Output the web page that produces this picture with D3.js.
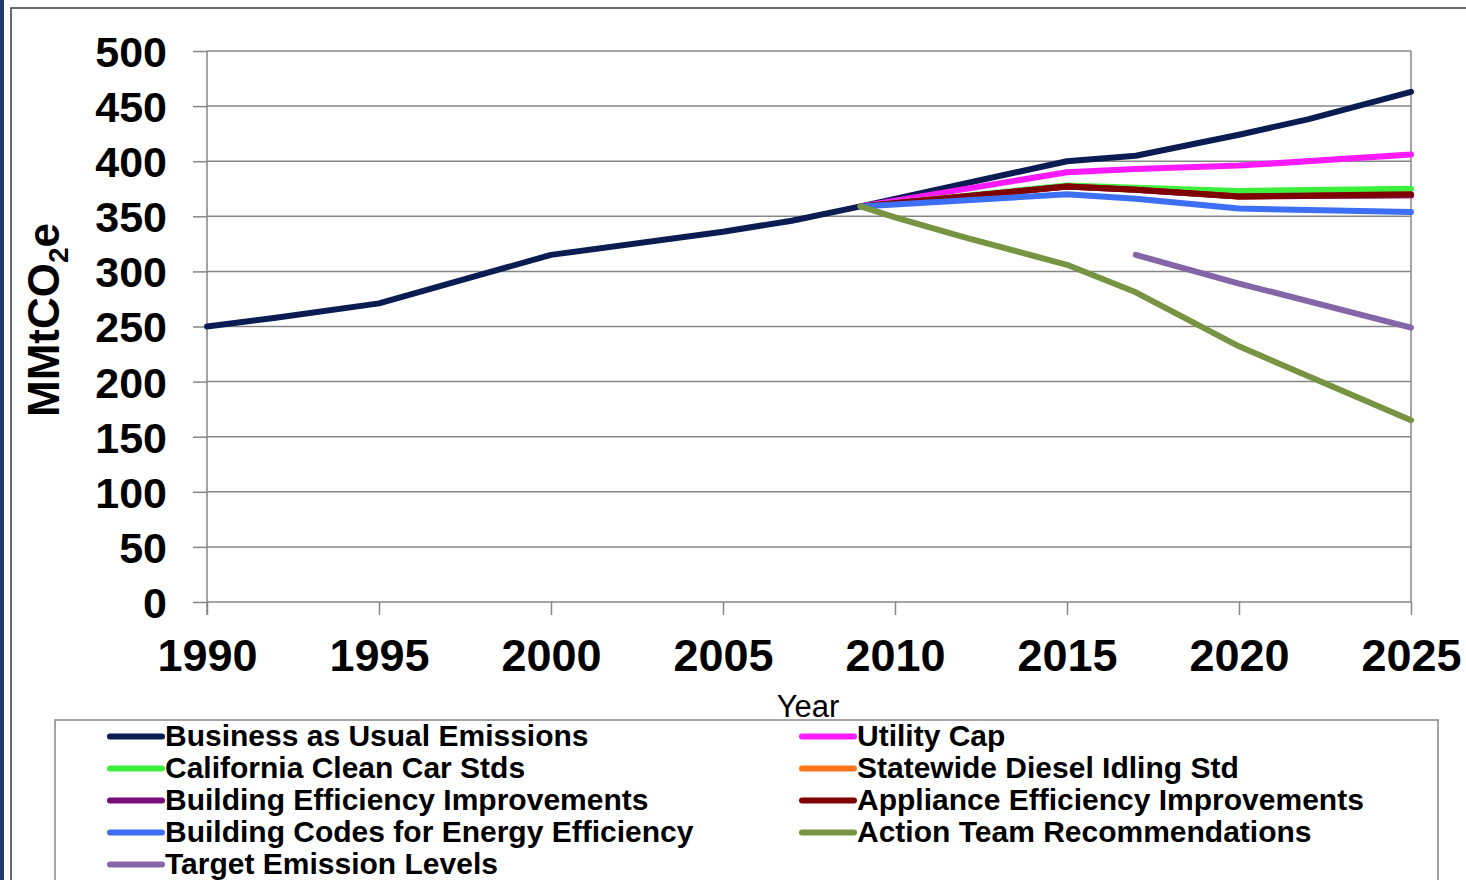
<!DOCTYPE html>
<html>
<head>
<meta charset="utf-8">
<script src="https://cdn.jsdelivr.net/npm/d3@7"></script>
<style>
  html, body { margin: 0; padding: 0; background: #fff; }
  svg { display: block; font-family: "Liberation Sans", Arial, sans-serif; }
</style>
</head>
<body>
<div id="chart"></div>
<script>
// Data (year, MMtCO2e)
const businessAsUsual = [[1990, 250], [1992, 258], [1995, 271], [2000, 315], [2005, 336], [2007, 346], [2009, 359], [2015, 400], [2017, 405], [2020, 424], [2022, 438], [2025, 463]];
const utilityCap = [[2009, 359], [2015, 390], [2017, 393], [2020, 396], [2025, 406]];
const cleanCarStds = [[2009, 359], [2015, 378], [2017, 376], [2020, 373], [2025, 375]];
const dieselIdlingStd = [[2009, 359], [2015, 377], [2017, 374], [2020, 368], [2025, 369]];
const buildingEfficiency = [[2009, 359], [2015, 377], [2017, 374], [2020, 368], [2025, 369]];
const applianceEfficiency = [[2009, 359], [2015, 377], [2017, 374], [2020, 368], [2025, 370]];
const buildingCodes = [[2009, 359], [2015, 370], [2017, 366], [2020, 357], [2025, 354]];
const actionTeam = [[2009, 359], [2010, 349], [2012, 331], [2015, 306], [2017, 281], [2020, 232], [2025, 165]];
const targetLevels = [[2017, 315], [2020, 289], [2025, 249]];

const seriesNames = [
  "Business as Usual Emissions", "Utility Cap", "California Clean Car Stds",
  "Statewide Diesel Idling Std", "Building Efficiency Improvements",
  "Appliance Efficiency Improvements", "Building Codes for Energy Efficiency",
  "Action Team Recommendations", "Target Emission Levels"
];
const seriesValues = [businessAsUsual, utilityCap, cleanCarStds, dieselIdlingStd,
  buildingEfficiency, applianceEfficiency, buildingCodes, actionTeam, targetLevels];
const seriesColors = ["#0b1c52", "#ff1aff", "#3cf03c", "#ff7519", "#7a0e7a",
  "#7f0000", "#3d6ff5", "#779442", "#8466a8"];

const xTicks = [1990, 1995, 2000, 2005, 2010, 2015, 2020, 2025];
const yTicks = [0, 50, 100, 150, 200, 250, 300, 350, 400, 450, 500];

const WIDTH = 1466, HEIGHT = 880;
const PLOT = { left: 207, right: 1411, top: 51, bottom: 602 };
const GRID = "#868686";

const svg = d3.select("#chart").append("svg")
  .attr("width", WIDTH).attr("height", HEIGHT);

// page frame
svg.append("rect").attr("x", 0).attr("y", 0).attr("width", 4).attr("height", HEIGHT).attr("fill", "#1f3a66");
svg.append("path").attr("d", `M11,${HEIGHT} V8 H${WIDTH}`).attr("fill", "none").attr("stroke", "#3a3a3a").attr("stroke-width", 1.5);

const x = d3.scaleLinear().domain([1990, 2025]).range([PLOT.left, PLOT.right]);
const y = d3.scaleLinear().domain([0, 500]).range([PLOT.bottom, PLOT.top]);

// horizontal gridlines
svg.append("g").selectAll("line").data(yTicks).join("line")
  .attr("x1", PLOT.left).attr("x2", PLOT.right)
  .attr("y1", d => y(d)).attr("y2", d => y(d))
  .attr("stroke", GRID).attr("stroke-width", 1.5);

// right border
svg.append("line").attr("x1", PLOT.right).attr("x2", PLOT.right)
  .attr("y1", PLOT.top).attr("y2", PLOT.bottom)
  .attr("stroke", GRID).attr("stroke-width", 1.5);

// y axis
const yAxis = svg.append("g").attr("transform", `translate(${PLOT.left},0)`)
  .call(d3.axisLeft(y).tickValues(yTicks).tickSize(14).tickPadding(26).tickFormat(d3.format("d")));
yAxis.select(".domain").remove();
yAxis.selectAll(".tick line").attr("stroke", GRID).attr("stroke-width", 1.5);
yAxis.selectAll("text").attr("font-size", 43).attr("font-weight", "bold").attr("fill", "#000")
  .attr("font-family", "Liberation Sans, Arial, sans-serif").attr("dy", "0.36em");
svg.append("line").attr("x1", PLOT.left).attr("x2", PLOT.left)
  .attr("y1", PLOT.top).attr("y2", PLOT.bottom + 13)
  .attr("stroke", GRID).attr("stroke-width", 1.5);

// x axis
const xAxis = svg.append("g").attr("transform", `translate(0,${PLOT.bottom})`)
  .call(d3.axisBottom(x).tickValues(xTicks).tickSize(13).tickFormat(d3.format("d")));
xAxis.select(".domain").remove();
xAxis.selectAll(".tick line").attr("stroke", GRID).attr("stroke-width", 1.5);
xAxis.selectAll("text").attr("font-size", 45).attr("font-weight", "bold").attr("fill", "#000")
  .attr("font-family", "Liberation Sans, Arial, sans-serif").attr("y", 69).attr("dy", null);

// axis titles
svg.append("text").attr("x", 808).attr("y", 717).attr("text-anchor", "middle")
  .attr("font-size", 31).attr("fill", "#000").text("Year");

const yTitle = svg.append("text")
  .attr("transform", "translate(59,320) rotate(-90)")
  .attr("text-anchor", "middle").attr("font-size", 44).attr("font-weight", "bold").attr("fill", "#000");
yTitle.append("tspan").text("MMtCO");
yTitle.append("tspan").attr("font-size", 28).attr("dy", 9).text("2");
yTitle.append("tspan").attr("dy", -9).text("e");

// series lines
const line = d3.line().x(d => x(d[0])).y(d => y(d[1]));
svg.append("g").selectAll("path").data(seriesValues).join("path")
  .attr("d", line)
  .attr("fill", "none")
  .attr("stroke", (d, i) => seriesColors[i])
  .attr("stroke-width", 6)
  .attr("stroke-linejoin", "round")
  .attr("stroke-linecap", "round");

// legend
svg.append("rect").attr("x", 55).attr("y", 720).attr("width", 1383).attr("height", 200)
  .attr("fill", "#fff").attr("stroke", GRID).attr("stroke-width", 1.5);

const legend = svg.append("g").selectAll("g").data(seriesNames).join("g")
  .attr("transform", (d, i) => `translate(${i % 2 === 0 ? 110 : 802},${746 + Math.floor(i / 2) * 32})`);
legend.append("line").attr("x1", 0).attr("x2", 52).attr("y1", -9.5).attr("y2", -9.5)
  .attr("stroke", (d, i) => seriesColors[i]).attr("stroke-width", 6).attr("stroke-linecap", "round");
legend.append("text").attr("x", 55).attr("y", 0)
  .attr("font-size", 30).attr("font-weight", "bold").attr("fill", "#000").text(d => d);
</script>
</body>
</html>
